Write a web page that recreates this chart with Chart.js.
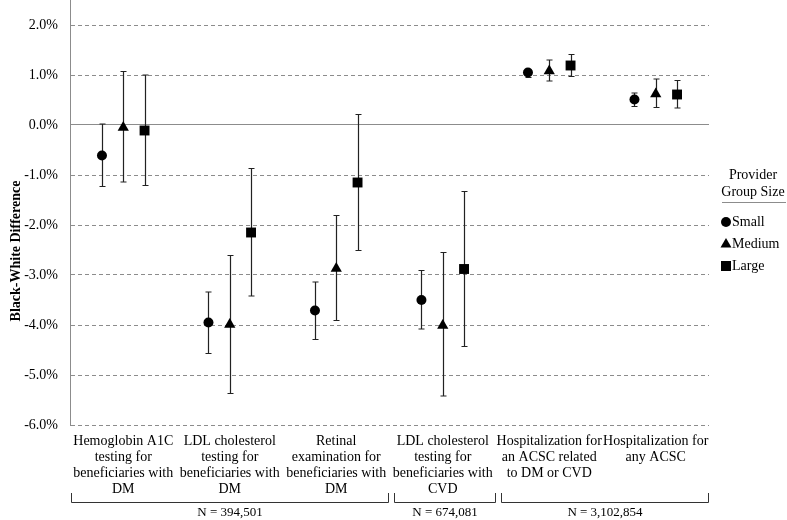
<!DOCTYPE html>
<html>
<head>
<meta charset="utf-8">
<script src="https://cdn.jsdelivr.net/npm/chart.js@4.4.1/dist/chart.umd.min.js"></script>
<style>
    body { margin: 0; background: #fff; }
    #chart-box { width: 787px; height: 520px; }
</style>
</head>
<body>
<div id="chart-box"><canvas id="diff-chart" width="787" height="520"></canvas></div>
<script>
var categories = [
    ["Hemoglobin A1C", "testing for", "beneficiaries with", "DM"],
    ["LDL cholesterol", "testing for", "beneficiaries with", "DM"],
    ["Retinal", "examination for", "beneficiaries with", "DM"],
    ["LDL cholesterol", "testing for", "beneficiaries with", "CVD"],
    ["Hospitalization for", "an ACSC related", "to DM or CVD"],
    ["Hospitalization for", "any ACSC"]
];
var seriesNames = ["Small", "Medium", "Large"];
// point estimates, percent
var smallValues = [-0.61, -3.95, -3.71, -3.50, 1.05, 0.51];
var mediumValues = [-0.05, -3.99, -2.87, -4.01, 1.08, 0.62];
var largeValues = [-0.11, -2.15, -1.15, -2.88, 1.19, 0.61];
// confidence interval ends
var smallLow = [-1.23, -4.57, -4.29, -4.08, 0.95, 0.37];
var smallHigh = [0.02, -3.34, -3.14, -2.91, 1.10, 0.64];
var mediumLow = [-1.14, -5.37, -3.91, -5.42, 0.88, 0.35];
var mediumHigh = [1.07, -2.61, -1.81, -2.55, 1.30, 0.92];
var largeLow = [-1.21, -3.42, -2.51, -4.43, 0.97, 0.34];
var largeHigh = [1.00, -0.87, 0.21, -1.33, 1.41, 0.89];
var yTicks = [-6, -5, -4, -3, -2, -1, 0, 1, 2];
var sampleGroups = [
    { from: 1, to: 3, text: "N = 394,501" },
    { from: 4, to: 4, text: "N = 674,081" },
    { from: 5, to: 6, text: "N = 3,102,854" }
];

var serifFont = "'Liberation Serif', 'Times New Roman', serif";
var markerStyles = ["circle", "triangle", "rect"];
var markerSizes = [5, 6.5, 7];
var xShift = [-0.2, 0, 0.2];

var MakePoints = (values, low, high, s) => {
    var pts = [];
    for (var i = 0; i < values.length; i++) {
        pts.push({ x: i + 1 + xShift[s], y: values[i], lo: low[i], hi: high[i] });
    }
    return pts;
};

var BuildDatasets = () => {
    var all = [[smallValues, smallLow, smallHigh], [mediumValues, mediumLow, mediumHigh], [largeValues, largeLow, largeHigh]];
    return all.map((d, s) => ({
        label: seriesNames[s],
        data: MakePoints(d[0], d[1], d[2], s),
        pointStyle: markerStyles[s],
        pointRadius: markerSizes[s],
        pointHoverRadius: markerSizes[s],
        backgroundColor: "#000",
        borderColor: "#000",
        borderWidth: 0,
        showLine: false
    }));
};

var errorBarPlugin = {
    id: "errorBars",
    beforeDatasetsDraw: (chart) => {
        var ctx = chart.ctx;
        var xs = chart.scales.x, ys = chart.scales.y;
        ctx.save();
        // solid zero line over the dashed grid
        var zeroY = Math.round(ys.getPixelForValue(0) - 0.5) + 0.5;
        ctx.strokeStyle = "#8c8c8c";
        ctx.lineWidth = 1;
        ctx.beginPath();
        ctx.moveTo(chart.chartArea.left, zeroY);
        ctx.lineTo(chart.chartArea.right, zeroY);
        ctx.stroke();
        ctx.strokeStyle = "#222";
        ctx.lineWidth = 1.2;
        chart.data.datasets.forEach((ds) => {
            ds.data.forEach((p) => {
                var x = Math.round(xs.getPixelForValue(p.x)) + 0.5;
                var yl = ys.getPixelForValue(p.lo);
                var yh = ys.getPixelForValue(p.hi);
                ctx.beginPath();
                ctx.moveTo(x, yl); ctx.lineTo(x, yh);
                ctx.moveTo(x - 3, yl); ctx.lineTo(x + 3, yl);
                ctx.moveTo(x - 3, yh); ctx.lineTo(x + 3, yh);
                ctx.stroke();
            });
        });
        ctx.restore();
    },
    afterDraw: (chart) => {
        var ctx = chart.ctx;
        var xs = chart.scales.x;
        ctx.save();
        // axis title
        ctx.fillStyle = "#000";
        ctx.font = "bold 14px " + serifFont;
        ctx.textAlign = "center";
        ctx.textBaseline = "middle";
        ctx.translate(16, 251);
        ctx.rotate(-Math.PI / 2);
        ctx.fillText("Black-White Difference", 0, 0);
        ctx.restore();

        // sample size brackets
        ctx.save();
        ctx.strokeStyle = "#333";
        ctx.lineWidth = 1;
        ctx.fillStyle = "#000";
        ctx.font = "13px " + serifFont;
        ctx.textAlign = "center";
        ctx.textBaseline = "middle";
        sampleGroups.forEach((g) => {
            var left = xs.getPixelForValue(g.from - 0.5) + (g.from === 1 ? 0.5 : 4.5);
            var right = xs.getPixelForValue(g.to + 0.5) - 1.5;
            left = Math.round(left) + 0.5; right = Math.round(right) + 0.5;
            ctx.beginPath();
            ctx.moveTo(left, 493); ctx.lineTo(left, 502.5); ctx.lineTo(right, 502.5); ctx.lineTo(right, 493);
            ctx.stroke();
            ctx.fillText(g.text, (left + right) / 2, 513);
        });
        ctx.restore();

        // legend
        ctx.save();
        ctx.fillStyle = "#000";
        ctx.font = "14px " + serifFont;
        ctx.textAlign = "center";
        ctx.textBaseline = "middle";
        ctx.fillText("Provider", 753, 175);
        ctx.fillText("Group Size", 753, 192);
        ctx.strokeStyle = "#8c8c8c";
        ctx.lineWidth = 1;
        ctx.beginPath();
        ctx.moveTo(722, 202.5); ctx.lineTo(786, 202.5);
        ctx.stroke();
        ctx.textAlign = "left";
        var rows = [222, 244, 266];
        seriesNames.forEach((name, s) => {
            var y = rows[s], x = 726;
            ctx.beginPath();
            if (s === 0) {
                ctx.arc(x, y, 5, 0, 2 * Math.PI);
            } else if (s === 1) {
                ctx.moveTo(x, y - 6); ctx.lineTo(x + 5.5, y + 3.5); ctx.lineTo(x - 5.5, y + 3.5); ctx.closePath();
            } else {
                ctx.rect(x - 5, y - 5, 10, 10);
            }
            ctx.fill();
            ctx.fillText(name, x + 6, y);
        });
        ctx.restore();
    }
};

var PlotChart = () => {
    var canvas = document.getElementById("diff-chart").getContext("2d");
    var chart = new Chart(canvas, {
        type: "scatter",
        data: { datasets: BuildDatasets() },
        options: {
            responsive: false,
            animation: false,
            devicePixelRatio: 1,
            layout: { autoPadding: false, padding: { left: 0, right: 78, top: 0, bottom: 0 } },
            plugins: { legend: { display: false }, tooltip: { enabled: false } },
            scales: {
                x: {
                    type: "linear",
                    min: 0.5,
                    max: 6.5,
                    afterBuildTicks: (s) => { s.ticks = categories.map((c, i) => ({ value: i + 1 })); },
                    afterFit: (s) => { s.height = 95; s.paddingLeft = 0; s.paddingRight = 0; },
                    grid: { display: false, drawTicks: false },
                    border: { display: false },
                    ticks: {
                        autoSkip: false,
                        maxRotation: 0,
                        padding: 8,
                        color: "#000",
                        font: { family: serifFont, size: 14, lineHeight: 1.15 },
                        callback: (v) => categories[Math.round(v) - 1]
                    }
                },
                y: {
                    min: -6,
                    max: 2.5,
                    afterBuildTicks: (s) => { s.ticks = yTicks.map((v) => ({ value: v })); },
                    afterFit: (s) => { s.width = 70; s.paddingTop = 0; s.paddingBottom = 0; },
                    grid: { color: "#8c8c8c", lineWidth: 1, drawTicks: false },
                    border: { display: true, color: "#8c8c8c", width: 1, dash: [4, 3] },
                    ticks: {
                        padding: 12,
                        color: "#000",
                        font: { family: serifFont, size: 14 },
                        callback: (v) => v.toFixed(1) + "%"
                    }
                }
            }
        },
        plugins: [errorBarPlugin]
    });
};
PlotChart();
</script>
</body>
</html>
